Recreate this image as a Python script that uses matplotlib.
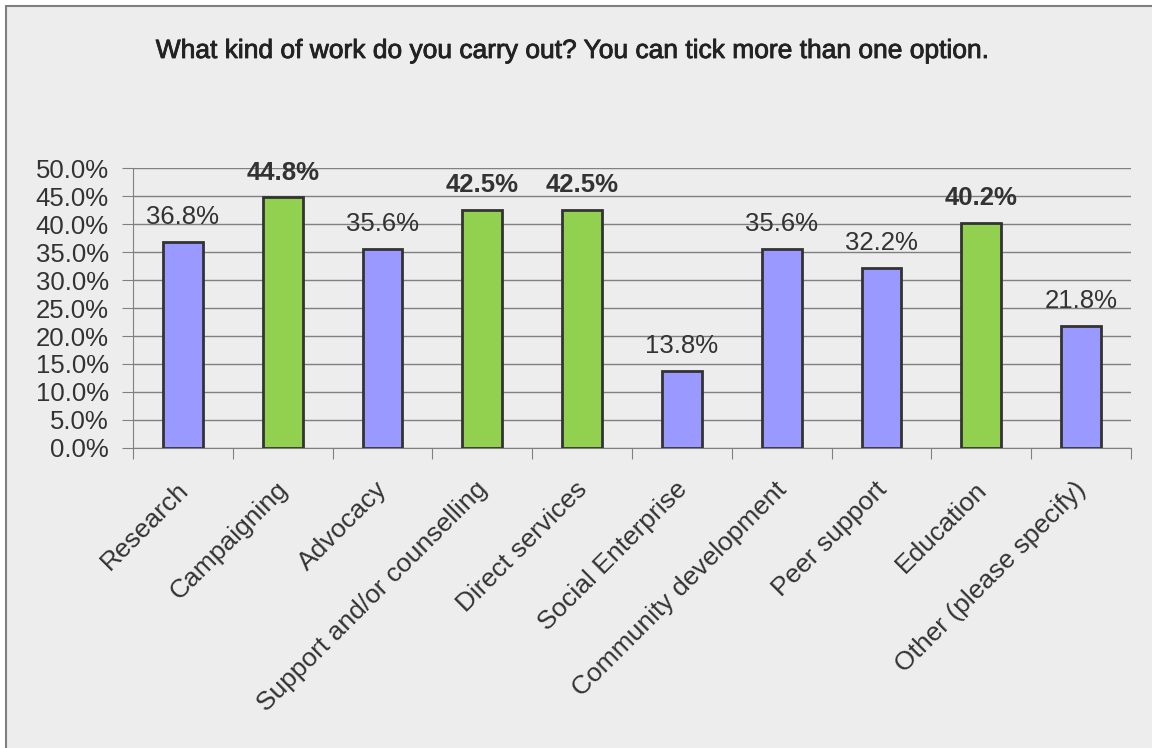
import matplotlib.pyplot as plt
import matplotlib.patheffects as pe
from matplotlib.patches import Rectangle
from matplotlib.transforms import ScaledTranslation

categories = ["Research", "Campaigning", "Advocacy", "Support and/or counselling",
              "Direct services", "Social Enterprise", "Community development",
              "Peer support", "Education", "Other (please specify)"]
values = [36.8, 44.8, 35.6, 42.5, 42.5, 13.8, 35.6, 32.2, 40.2, 21.8]
highlight = [False, True, False, True, True, False, False, False, True, False]
yticks = [0, 5, 10, 15, 20, 25, 30, 35, 40, 45, 50]

blue = "#9999FF"
green = "#92D050"
text_col = "#333333"

plt.rcParams['font.family'] = ['Liberation Sans', 'DejaVu Sans']

fig = plt.figure(figsize=(11.52, 7.48), dpi=100)
fig.patch.set_facecolor("white")

# grey panel with frame
fig.patches.append(Rectangle((6 / 1152, -0.01), 1.02, 1 - 6 / 748 + 0.01,
                             transform=fig.transFigure, facecolor="#EDEDED",
                             edgecolor="#808080", linewidth=1.5, zorder=-5))

ax = fig.add_axes([133 / 1152, 1 - 448 / 748, (1131 - 133) / 1152, (448 - 168) / 748])
ax.set_facecolor("none")

x = range(len(categories))
colors = [green if h else blue for h in highlight]
ax.bar(x, values, width=0.4, color=colors, edgecolor="#333333", linewidth=2, zorder=3)

for i, v in enumerate(values):
    ax.annotate(f"{v:.1f}%", (i, v), xytext=(0, 9), textcoords="offset points",
                ha="center", va="bottom", fontsize=18.5, color=text_col,
                fontweight="bold" if highlight[i] else "normal")

ax.set_xlim(-0.5, len(categories) - 0.5)
ax.set_ylim(0, 50)
ax.set_yticks(yticks)
ax.set_yticklabels([f"{t:.1f}%" for t in yticks], fontsize=18.5, color=text_col)
ax.yaxis.grid(True, color="#808080", linewidth=1, zorder=0)
ax.set_axisbelow(True)
ax.tick_params(axis="y", length=8, color="#808080", pad=9.5)

ax.set_xticks([i - 0.5 for i in range(len(categories) + 1)], minor=False)
ax.set_xticklabels([])
ax.set_xticks(list(x), minor=True)
ax.set_xticklabels(categories, minor=True, rotation=45, ha="right",
                   rotation_mode="anchor", fontsize=19, color=text_col)
ax.tick_params(axis="x", which="major", length=8, color="#808080")
ax.tick_params(axis="x", which="minor", length=0, pad=21)
shift = ScaledTranslation(-7 / 100, 0, fig.dpi_scale_trans)
for lab in ax.get_xticklabels(minor=True):
    lab.set_transform(lab.get_transform() + shift)

for s in ["top", "right"]:
    ax.spines[s].set_visible(False)
for s in ["left", "bottom"]:
    ax.spines[s].set_color("#808080")

fig.text(573 / 1152, 1 - 51 / 748, "What kind of work do you carry out? You can tick more than one option.",
         ha="center", va="center", fontsize=19, color="#222222",
         path_effects=[pe.withStroke(linewidth=0.6, foreground="#222222")])

fig.savefig("out.png", dpi=100)
